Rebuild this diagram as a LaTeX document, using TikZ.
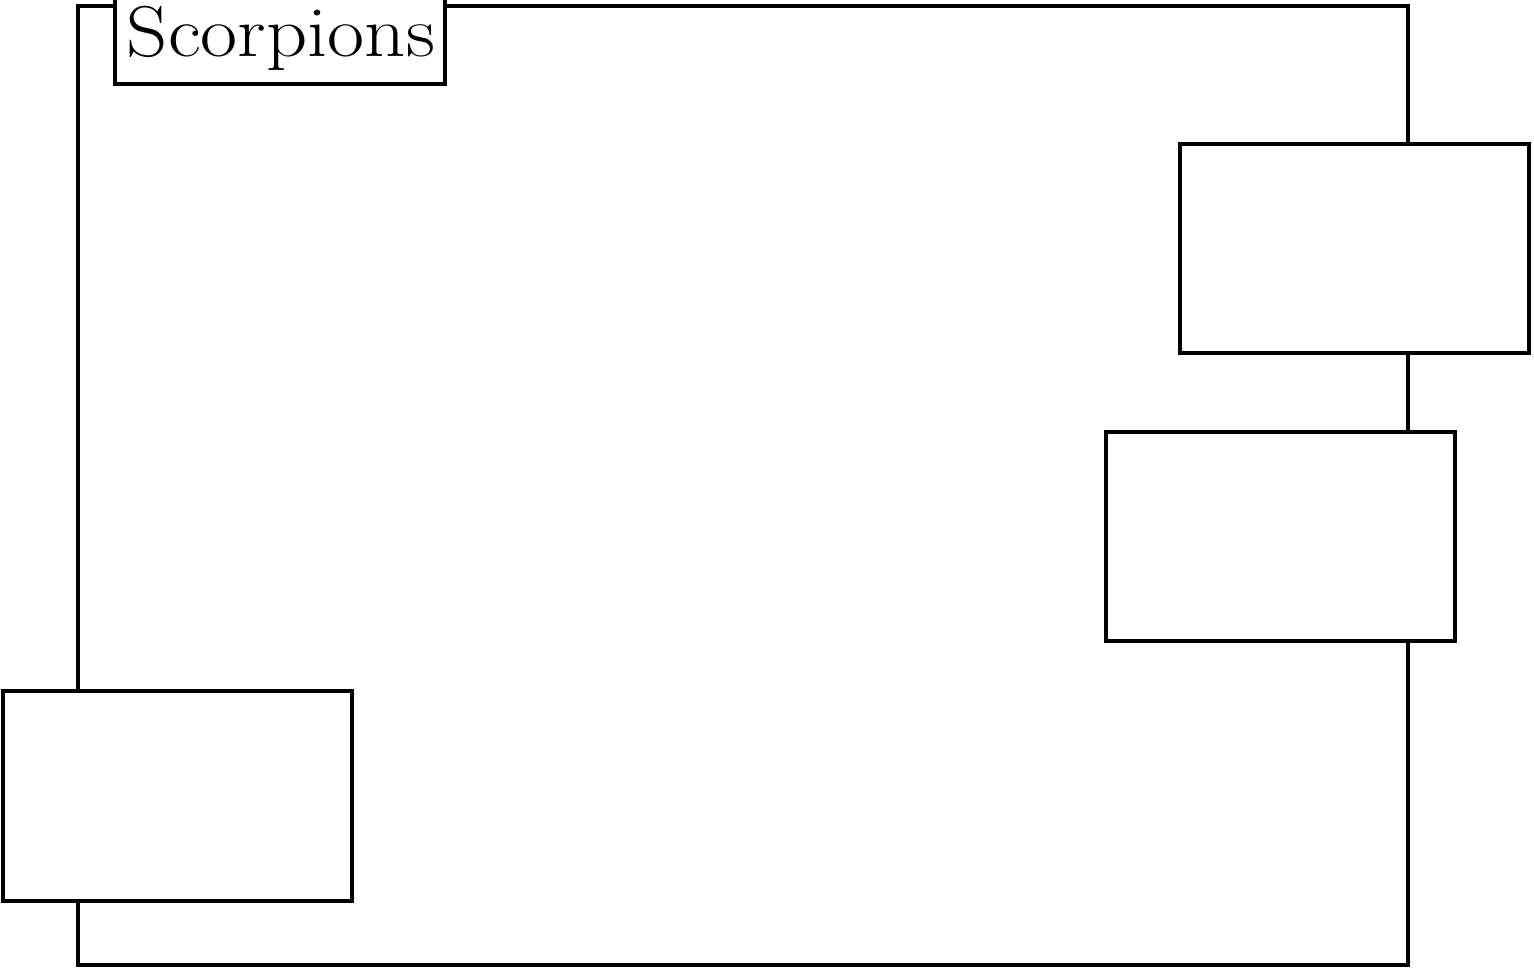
\documentclass[tikz,border=0pt]{standalone}
\tikzset{
  blk/.style={draw=black, line width=4pt, fill=white, inner sep=0pt},
  titlefont/.style={font=\fontsize{72}{74}\selectfont},
}
\begin{document}
\begin{tikzpicture}[x=1pt,y=1pt]
\useasboundingbox (0,0) rectangle (1534,972);
\clip (0,0) rectangle (1534,972);
\node[blk, fill=none, minimum width=1330pt, minimum height=959pt] (frame) at (743,486.5) {};
\node[blk, minimum width=330pt, minimum height=160pt, anchor=south] (title) at (280,886) {};
\node[titlefont, anchor=base, inner sep=0pt] (titletext) at (281,915) {\scalebox{1.12}[1]{Scorpions}};
\node[blk, minimum width=349pt, minimum height=209pt] (b1) at (1354.5,723.5) {};
\node[blk, minimum width=349pt, minimum height=209pt] (b2) at (1280.5,435.5) {};
\node[blk, minimum width=349pt, minimum height=210pt] (b3) at (177.5,176) {};
\end{tikzpicture}
\end{document}
